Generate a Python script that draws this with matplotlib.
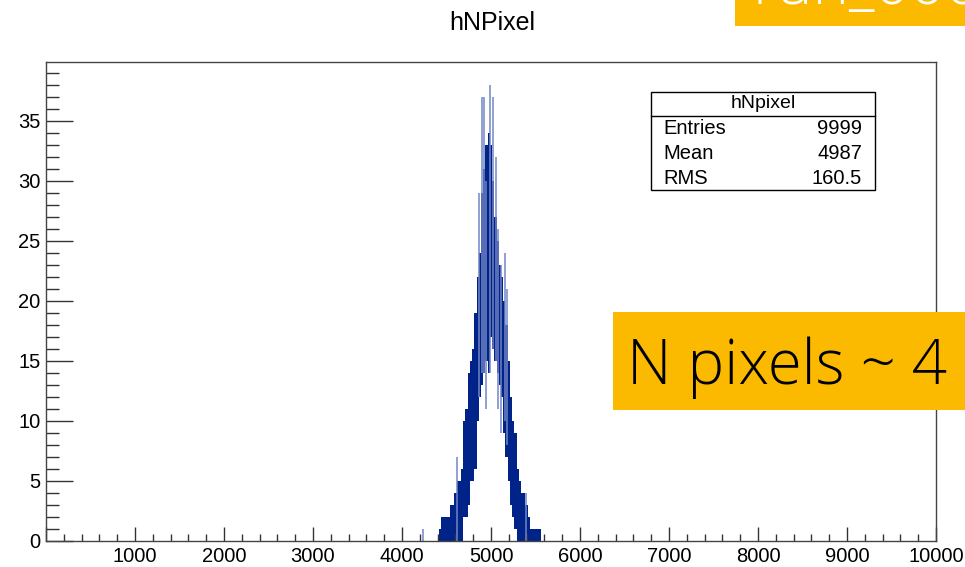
import matplotlib
matplotlib.use('Agg')
import matplotlib.pyplot as plt
from matplotlib.patches import Rectangle
from matplotlib.ticker import MultipleLocator

plt.rcParams['font.family'] = ['Liberation Sans', 'DejaVu Sans']

# ---- data (envelope of the dense histogram, per ~25-unit column)
col_x = [4425, 4450, 4475, 4500, 4525, 4550, 4575, 4600, 4625, 4650, 4675, 4700,
         4725, 4750, 4775, 4800, 4825, 4850, 4875, 4900, 4925, 4950, 4975, 5000,
         5025, 5050, 5075, 5100, 5125, 5150, 5175, 5200, 5225, 5250, 5275, 5300,
         5325, 5350, 5375, 5400, 5425, 5450, 5475, 5500, 5525, 5550]
col_lo = [0, 0, 0, 0, 0, 0, 0, 0, 0, 0, 0, 2,
          2, 3, 5, 5, 6, 10, 12, 13, 14, 15, 14, 17,
          16, 15, 14, 13, 12, 9, 7, 5, 3, 2, 1, 0,
          0, 0, 0, 0, 0, 0, 0, 0, 0, 0]
col_hi = [1, 2, 2, 2, 2, 3, 3, 4, 5, 5, 6, 10,
          11, 14, 15, 16, 19, 22, 24, 29, 31, 33, 34, 33,
          30, 27, 25, 23, 22, 20, 18, 15, 12, 10, 9, 6,
          5, 4, 4, 3, 2, 1, 1, 1, 1, 1]

# isolated single-bin spikes visible outside the dense envelope
spike_x = [4232, 4614, 4869, 4897, 4920, 4944, 4985, 5026, 5060, 5079, 5116, 5157, 5176, 5395]
spike_lo = [0, 0, 12, 14, 14, 11, 14, 16, 15, 11, 9, 10, 8, 0]
spike_hi = [1, 7, 29, 37, 37, 30, 38, 37, 32, 26, 23, 24, 21, 4]

x_ticks = [0, 1000, 2000, 3000, 4000, 5000, 6000, 7000, 8000, 9000, 10000]
x_tick_labels = ['', '1000', '2000', '3000', '4000', '5000', '6000', '7000', '8000', '9000', '10000']
y_ticks = [0, 5, 10, 15, 20, 25, 30, 35]

stats_title = 'hNpixel'
stats_names = ['Entries', 'Mean', 'RMS']
stats_values = ['9999', '4987', '160.5']

W, H = 965, 567
def fx(x):
    return x / W
def fy(y):
    return 1 - y / H

dark = '#00238a'
light = '#7286c6'
orange = '#fbba00'
big_font = ['Open Sans', 'Liberation Sans', 'DejaVu Sans']

fig = plt.figure(figsize=(9.65, 5.67), dpi=100)
ax = fig.add_axes([fx(46), fy(541), (936 - 46) / W, (541 - 62) / H])

ax.bar(col_x, [h - l for h, l in zip(col_hi, col_lo)], bottom=col_lo, width=25,
       color=dark, linewidth=0, align='center')
ax.vlines(spike_x, spike_lo, spike_hi, color=light, lw=1.1)

ax.set_xlim(0, 10000)
ax.set_ylim(0, 39.9)
ax.set_xticks(x_ticks)
ax.set_xticklabels(x_tick_labels)
ax.set_yticks(y_ticks)
ax.xaxis.set_minor_locator(MultipleLocator(200))
ax.yaxis.set_minor_locator(MultipleLocator(1))
ax.tick_params(which='both', direction='in', top=False, right=False,
               color='#333333', width=1, labelsize=14.5)
ax.tick_params(axis='x', which='major', length=10, pad=4)
ax.tick_params(axis='x', which='minor', length=5)
ax.tick_params(axis='y', which='major', length=19.4, pad=4)
ax.tick_params(axis='y', which='minor', length=9.7)
for s in ax.spines.values():
    s.set_color('#444444')
    s.set_linewidth(1)

# title
fig.text(fx(492), fy(23), 'hNPixel', ha='center', va='center', fontsize=18)

# stats box
fig.add_artist(Rectangle((fx(651), fy(190)), (875 - 651) / W, (190 - 92) / H,
                         transform=fig.transFigure, facecolor='white',
                         edgecolor='black', lw=1, zorder=5))
fig.add_artist(plt.Line2D([fx(651), fx(875)], [fy(116), fy(116)],
                          transform=fig.transFigure, color='black', lw=1, zorder=6))
fig.text(fx(763), fy(104), stats_title, ha='center', va='center', fontsize=14, zorder=7)
for i, (n, v) in enumerate(zip(stats_names, stats_values)):
    yy = fy(129 + 24.5 * i)
    fig.text(fx(663), yy, n, ha='left', va='center', fontsize=14.5, zorder=7)
    fig.text(fx(862), yy, v, ha='right', va='center', fontsize=14.5, zorder=7)

# orange annotation boxes
fig.add_artist(Rectangle((fx(613), fy(410)), (W - 613) / W, (410 - 312) / H,
                         transform=fig.transFigure, facecolor=orange,
                         edgecolor='none', zorder=8))
fig.text(fx(627), fy(384), 'N pixels ~ 4', ha='left', va='baseline',
         fontsize=44.5, family=big_font, fontweight='light', color='black', zorder=9)

fig.add_artist(Rectangle((fx(735), fy(26)), (W - 735) / W, 26 / H,
                         transform=fig.transFigure, facecolor=orange,
                         edgecolor='none', zorder=8))
fig.text(fx(752), fy(3.5), 'run_000', ha='left', va='baseline',
         fontsize=44.5, family=big_font, fontweight='light', color='white', zorder=9)

fig.savefig('out.png', dpi=100)
